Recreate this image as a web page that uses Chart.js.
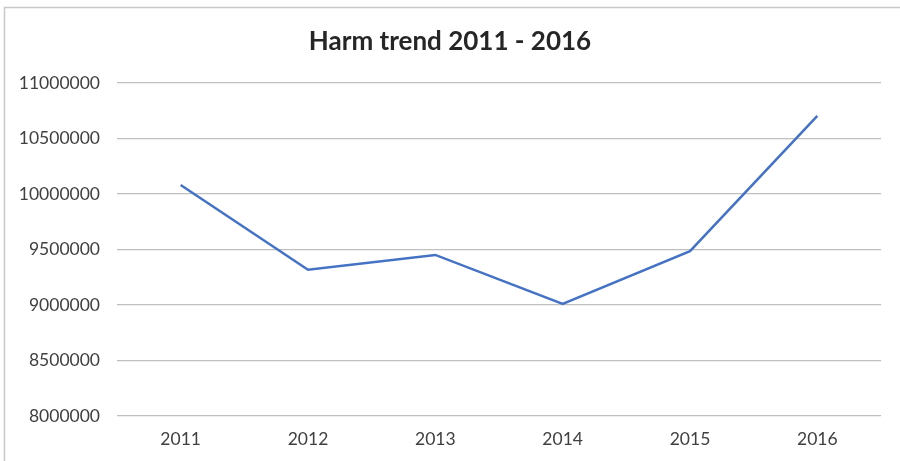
<!DOCTYPE html>
<html>
<head>
<meta charset="utf-8">
<script src="https://cdn.jsdelivr.net/npm/chart.js@4/dist/chart.umd.min.js"></script>
<style>
  html, body { margin: 0; padding: 0; background: #fff; }
  #wrap { position: relative; width: 900px; height: 461px; }
</style>
</head>
<body>
<div id="wrap"><canvas id="harm"></canvas></div>
<script>
const years = ['2011', '2012', '2013', '2014', '2015', '2016'];
const harmValues = [10081000, 9318000, 9451000, 9009000, 9485000, 10704000];
const yTicks = [8000000, 8500000, 9000000, 9500000, 10000000, 10500000, 11000000];

const FONT = 'Lato, "Open Sans", sans-serif';

// light frame on the left and top, like the cropped source image
const framePlugin = {
  id: 'frame',
  beforeDraw(chart) {
    const { ctx } = chart;
    ctx.save();
    ctx.strokeStyle = '#c8c8c8';
    ctx.lineWidth = 1.5;
    ctx.beginPath();
    ctx.moveTo(4.5, 461);
    ctx.lineTo(4.5, 7.5);
    ctx.lineTo(900, 7.5);
    ctx.stroke();
    ctx.restore();
  },
};

new Chart(document.getElementById('harm').getContext('2d'), {
  type: 'line',
  data: {
    labels: years,
    datasets: [{
      label: 'Harm',
      data: harmValues,
      borderColor: '#4472C4',
      borderWidth: 2.5,
      pointRadius: 0,
      fill: false,
      tension: 0,
    }],
  },
  options: {
    responsive: true,
    maintainAspectRatio: false,
    animation: false,
    layout: { padding: 0 },
    plugins: {
      legend: { display: false },
      tooltip: { enabled: false },
      title: {
        display: true,
        text: 'Harm trend 2011 - 2016',
        color: '#262626',
        font: { family: FONT, size: 26, weight: 'bold', lineHeight: 1.2 },
        padding: { top: 26.4, bottom: 25.4 },
      },
    },
    scales: {
      x: {
        offset: true,
        grid: { display: false, drawTicks: false },
        border: { display: false },
        ticks: { color: '#404040', font: { family: FONT, size: 17.5 }, padding: 13, maxRotation: 0 },
        afterFit: (s) => { s.height = 45; },
      },
      y: {
        min: 8000000,
        max: 11000000,
        afterBuildTicks: (s) => { s.ticks = yTicks.map((v) => ({ value: v })); },
        grid: { color: '#bfbfbf', lineWidth: 1.2, drawTicks: false },
        border: { display: false },
        ticks: {
          color: '#404040',
          font: { family: FONT, size: 17.5 },
          padding: 17,
          callback: (v) => String(v),
        },
        afterFit: (s) => { s.width = 117; },
      },
      // empty right-hand axis, only to keep the plot's right margin
      yRight: {
        position: 'right',
        display: true,
        grid: { display: false, drawTicks: false },
        border: { display: false },
        ticks: { display: false },
        afterFit: (s) => { s.width = 19; },
      },
    },
  },
  plugins: [framePlugin],
});
</script>
</body>
</html>
